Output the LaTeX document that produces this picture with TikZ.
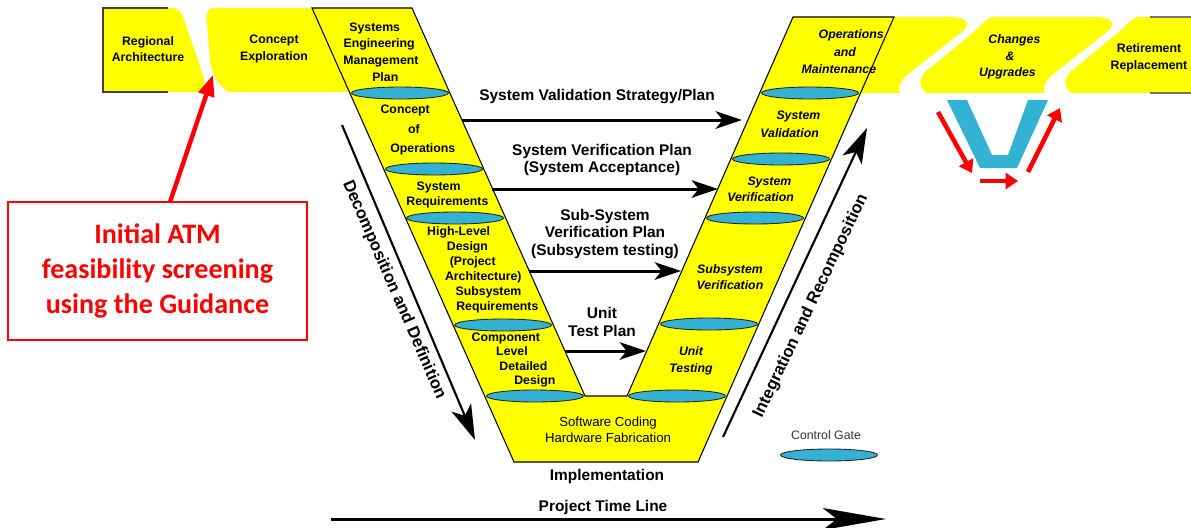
\documentclass[tikz,border=0pt]{standalone}
\usepackage{tikz}
\usepackage{fontspec}
\setmainfont{Liberation Sans}
\newfontfamily\calibri{Carlito}
\usetikzlibrary{arrows.meta,shapes.geometric}
\definecolor{vyellow}{RGB}{255,255,0}
\definecolor{gatecyan}{RGB}{52,178,212}

\begin{document}
\begin{tikzpicture}[x=0.2mm,y=-0.2mm,
  gate/.style={ellipse,draw=black!85,fill=gatecyan,line width=0.5pt,minimum width=19.4mm,minimum height=2.4mm,inner sep=0pt},
  phase/.style={align=center,inner sep=0pt,font=\fontsize{7}{9.5}\selectfont\bfseries},
  testlabel/.style={align=center,inner sep=0pt,font=\fontsize{7}{10}\selectfont\bfseries\itshape},
  planlabel/.style={align=center,inner sep=0pt,font=\fontsize{8.8}{9.8}\selectfont\bfseries},
  planarrow/.style={line width=1.7pt,-{Stealth[length=15pt,width=10pt,inset=4pt]}},
  flowarrow/.style={line width=1.2pt,-{Stealth[length=20pt,width=12pt,inset=5pt]}},
  cyclearrow/.style={red,line width=2.6pt,-{Triangle[length=7pt,width=9pt]}}]
\useasboundingbox (0,0) rectangle (1191,527);

\fill[vyellow] (103,8) rectangle (360,92);
\fill[vyellow] (800,17) rectangle (1191,93);
\fill[white] (172,8) .. controls (180,8) and (183,15) .. (186,25) -- (203,75)
  .. controls (206,84) and (204,90) .. (200,92) -- (228,92)
  .. controls (220,86) and (212,78) .. (210,60) -- (207,25)
  .. controls (206,15) and (206,10) .. (212,8) -- cycle;
\foreach \dx in {0,145}
  \fill[white,shift={(\dx,0)}] (950,17) .. controls (968,17) and (972,24) .. (962,32) -- (906,76)
    .. controls (899,83) and (898,89) .. (900,93) -- (926,93)
    .. controls (919,88) and (918,80) .. (925,72) -- (976,30)
    .. controls (982,24) and (986,19) .. (992,17) -- cycle;
\draw[line width=0.8pt,black!75] (168,8) -- (103,8) -- (103,92) -- (168,92);
\draw[line width=0.8pt,black!55] (1150,17) -- (1191,17);
\draw[line width=0.8pt,black!55] (1150,93) -- (1191,93);

\filldraw[fill=vyellow,draw=black,line width=0.6pt] (312,8) -- (412,8) -- (585,396) -- (627,396)
  -- (793,17) -- (894,17) -- (698,462) -- (514,462) -- cycle;

\node[gate] (g1) at (400,93) {};
\node[gate] (g2) at (434,169) {};
\node[gate] (g3) at (455,218) {};
\node[gate] (g4) at (503,325) {};
\node[gate] (g5) at (535,396) {};
\node[gate] (h1) at (810,93) {};
\node[gate] (h2) at (781,159) {};
\node[gate] (h3) at (755,218) {};
\node[gate] (h4) at (709,324) {};
\node[gate] (h5) at (677,396) {};

\node[phase] (regarch) at (148,49) {Regional\\Architecture};
\node[phase] (conexp) at (274,49) {Concept\\Exploration};
\node[phase] (semp) at (380,52) {Systems\kern6pt\\Engineering\kern1pt\\\kern1pt Management\\\kern6pt Plan};
\node[phase,font=\fontsize{7}{11}\selectfont\bfseries] (conops) at (414,130) {Concept\kern10pt\\of\\\kern10pt Operations};
\node[phase,font=\fontsize{7}{9}\selectfont\bfseries] (sysreq) at (443,195) {System\kern5pt\\\kern5pt Requirements};
\node[phase,font=\fontsize{7}{8.5}\selectfont\bfseries] (hld) at (478,270) {High-Level\kern22pt\\Design\kern12pt\\(Project\kern6pt\\\kern6pt Architecture)\\\kern12pt Subsystem\\\kern22pt Requirements};
\node[phase,font=\fontsize{7}{8.2}\selectfont\bfseries] (cldd) at (519,360) {Component\kern15pt\\Level\kern8pt\\\kern5pt Detailed\\\kern18pt Design};
\node[align=center,inner sep=0pt,font=\fontsize{7.5}{8.8}\selectfont] (coding) at (608,430) {Software Coding\\Hardware Fabrication};
\node[planlabel] (impl) at (607,476) {Implementation};

\node[testlabel] (opsmaint) at (845,52) {\kern7pt Operations\\and\\Maintenance\kern7pt};
\node[testlabel,font=\fontsize{7}{9.3}\selectfont\bfseries\itshape] (changes) at (1010,57) {\kern5pt Changes\\\&\\Upgrades\kern3pt};
\node[phase] (retire) at (1149,58) {Retirement\\Replacement};
\node[testlabel] (sysval) at (794,124) {\kern5pt System\\Validation\kern5pt};
\node[testlabel,font=\fontsize{7}{9}\selectfont\bfseries\itshape] (sysver) at (765,189) {\kern5pt System\\Verification\kern5pt};
\node[testlabel,font=\fontsize{7}{9.5}\selectfont\bfseries\itshape] (subver) at (730,277) {Subsystem\\Verification};
\node[testlabel,font=\fontsize{7}{9.5}\selectfont\bfseries\itshape] (unittest) at (691,361) {Unit\\Testing};

\node[planlabel] (valplan) at (597,97) {System Validation Strategy/Plan};
\node[planlabel] (verplan) at (602,160) {System Verification Plan\\(System Acceptance)};
\node[planlabel] (subplan) at (605,234) {Sub-System\\Verification Plan\\(Subsystem testing)};
\node[planlabel,font=\fontsize{8.8}{10}\selectfont\bfseries] (unitplan) at (602,322) {Unit\\Test Plan};
\coordinate (valL) at (462,120);
\coordinate (valR) at (742,120);
\coordinate (verL) at (492,189);
\coordinate (verR) at (718,189);
\coordinate (subL) at (529,271);
\coordinate (subR) at (681,271);
\coordinate (unitL) at (565,351);
\coordinate (unitR) at (646,351);
\draw[planarrow] (valL) -- (valR);
\draw[planarrow] (verL) -- (verR);
\draw[planarrow] (subL) -- (subR);
\draw[planarrow] (unitL) -- (unitR);

\coordinate (decTop) at (342,125);
\coordinate (decBot) at (475,440);
\draw[flowarrow] (decTop) -- (decBot);
\node[rotate=-66.5,font=\fontsize{9.5}{11}\selectfont\bfseries] (decomp) at (394,290) {Decomposition and Definition};
\coordinate (intBot) at (723,437);
\coordinate (intTop) at (867,128);
\draw[flowarrow] (intBot) -- (intTop);
\node[rotate=64.5,font=\fontsize{9.5}{11}\selectfont\bfseries] (integ) at (811,306) {Integration and Recomposition};

\node[font=\fontsize{7}{8}\selectfont,text=black!80] (gatelabel) at (826,435) {Control Gate};
\node[gate] (gatekey) at (829,455) {};

\node[planlabel] (timeline) at (603,507) {Project Time Line};
\coordinate (tlStart) at (331,519);
\coordinate (tlEnd) at (886,519);
\draw[line width=1.7pt,-{Stealth[length=36pt,width=12.5pt,inset=8pt]}] (tlStart) -- (tlEnd);

\fill[gatecyan] (947,100) -- (967,100) -- (992,155) -- (1008,155) -- (1028,100) -- (1048,100)
  -- (1017,168) -- (980,168) -- cycle;
\coordinate (cyc1) at (938,112);
\coordinate (cyc2) at (972,173);
\coordinate (cyc3) at (980,181);
\coordinate (cyc4) at (1018,181);
\coordinate (cyc5) at (1028,172);
\coordinate (cyc6) at (1060,108);
\draw[cyclearrow] (cyc1) -- (cyc2);
\draw[cyclearrow] (cyc3) -- (cyc4);
\draw[cyclearrow] (cyc5) -- (cyc6);

\node[draw=red,line width=0.8pt,minimum width=59.8mm,minimum height=27.6mm,align=center,
  text=red,font=\calibri\fontsize{16}{20}\selectfont\bfseries] (atmbox) at (157.5,271)
  {Initial ATM\\feasibility screening\\using the Guidance};
\coordinate (boxTop) at (170,202);
\coordinate (explore) at (213,75);
\draw[red,line width=2.5pt,-{Triangle[length=12pt,width=9pt]}] (boxTop) -- (explore);
\end{tikzpicture}
\end{document}
